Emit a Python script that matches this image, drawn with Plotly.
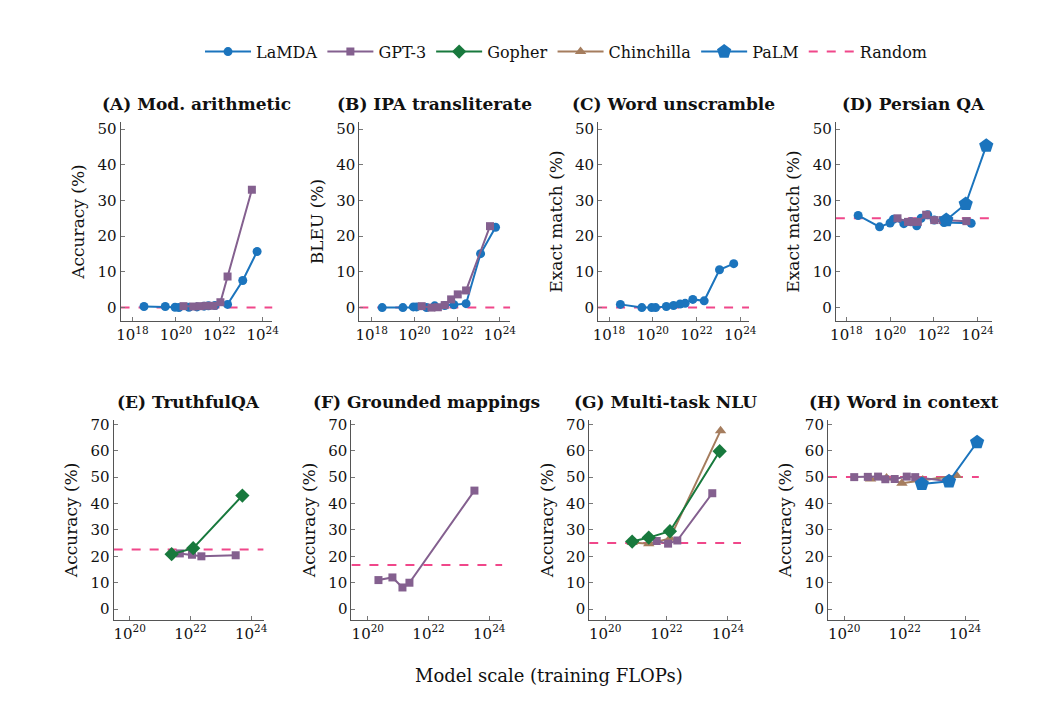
import numpy as np
import plotly.graph_objects as go

# x values are log10(training FLOPs), y values in percent
lamda_a_x = [18.53, 19.51, 19.96, 20.14, 20.6, 20.97, 21.3, 21.5, 21.8, 22.38, 23.08, 23.74]
lamda_a_y = [0.3, 0.3, 0.1, 0.0, 0.1, 0.2, 0.4, 0.5, 0.6, 0.9, 7.6, 15.7]
gpt3_a_x = [20.35, 20.8, 21.1, 21.4, 21.73, 22.05, 22.38, 23.5]
gpt3_a_y = [0.4, 0.3, 0.4, 0.5, 0.5, 1.5, 8.7, 33.0]

lamda_b_x = [18.49, 19.46, 19.95, 20.1, 20.57, 20.95, 21.42, 21.85, 22.42, 23.1, 23.8]
lamda_b_y = [0.0, 0.0, 0.2, 0.2, 0.0, 0.5, 0.6, 0.8, 1.1, 15.1, 22.5]
gpt3_b_x = [20.34, 20.8, 21.1, 21.42, 21.72, 22.03, 22.42, 23.54]
gpt3_b_y = [0.4, 0.0, 0.1, 0.7, 2.3, 3.7, 4.8, 22.8]

lamda_c_x = [18.52, 19.5, 19.95, 20.13, 20.62, 20.95, 21.25, 21.48, 21.83, 22.35, 23.05, 23.7]
lamda_c_y = [0.9, 0.0, 0.0, 0.0, 0.3, 0.6, 1.0, 1.2, 2.3, 1.9, 10.6, 12.3]

lamda_d_x = [18.54, 19.52, 20.0, 20.15, 20.63, 20.95, 21.22, 21.42, 21.72, 22.02, 22.47, 23.71]
lamda_d_y = [25.8, 22.6, 23.7, 24.7, 23.5, 24.0, 22.9, 25.0, 26.0, 24.5, 23.8, 23.6]
gpt3_d_x = [20.34, 20.82, 21.05, 21.27, 21.65, 22.02, 22.4, 23.49]
gpt3_d_y = [25.0, 24.0, 24.0, 24.0, 26.0, 24.5, 24.5, 24.2]
palm_d_x = [22.57, 23.46, 24.4]
palm_d_y = [24.5, 29.0, 45.3]

gopher_e_x = [21.38, 22.09, 23.71]
gopher_e_y = [20.8, 23.1, 43.0]
gpt3_e_x = [21.65, 22.05, 22.36, 23.49]
gpt3_e_y = [21.1, 20.6, 20.0, 20.4]

gpt3_f_x = [20.35, 20.81, 21.14, 21.37, 23.51]
gpt3_f_y = [11.0, 12.0, 8.2, 10.0, 44.9]

gopher_g_x = [20.88, 21.42, 22.11, 23.73]
gopher_g_y = [25.6, 27.1, 29.5, 59.8]
chinchilla_g_x = [20.88, 21.42, 22.11, 23.76]
chinchilla_g_y = [25.2, 24.8, 26.8, 67.6]
gpt3_g_x = [21.68, 22.05, 22.35, 23.49]
gpt3_g_y = [25.8, 24.8, 26.0, 43.9]

gpt3_h_x = [20.33, 20.78, 21.12, 21.36, 21.67, 22.07, 22.35, 23.47]
gpt3_h_y = [50.0, 50.1, 50.2, 49.2, 49.3, 50.2, 50.0, 48.4]
chinchilla_h_x = [20.87, 21.4, 21.91, 22.6, 23.72]
chinchilla_h_y = [49.3, 49.7, 47.7, 48.9, 50.6]
palm_h_x = [22.57, 23.47, 24.4]
palm_h_y = [47.4, 48.4, 63.2]

random_baseline = [0, 0, 0, 25, 22.6, 16.7, 25, 50]

panel_titles = ["(A) Mod. arithmetic", "(B) IPA transliterate", "(C) Word unscramble",
                "(D) Persian QA", "(E) TruthfulQA", "(F) Grounded mappings",
                "(G) Multi-task NLU", "(H) Word in context"]
y_titles = ["Accuracy (%)", "BLEU (%)", "Exact match (%)", "Exact match (%)",
            "Accuracy (%)", "Accuracy (%)", "Accuracy (%)", "Accuracy (%)"]
top_ticks = [18, 20, 22, 24]
bottom_ticks = [20, 22, 24]
top_yticks = [0, 10, 20, 30, 40, 50]
bottom_yticks = [0, 10, 20, 30, 40, 50, 60, 70]

styles = {
    "LaMDA": dict(color="#1b74bd", symbol="circle", size=9),
    "GPT-3": dict(color="#84608f", symbol="square", size=8),
    "Gopher": dict(color="#18793d", symbol="diamond", size=11),
    "Chinchilla": dict(color="#a57d5e", symbol="triangle-up", size=10),
    "PaLM": dict(color="#1b74bd", symbol="pentagon", size=15),
}
RANDOM_COLOR = "#f0478a"

panels = [
    [("LaMDA", lamda_a_x, lamda_a_y), ("GPT-3", gpt3_a_x, gpt3_a_y)],
    [("LaMDA", lamda_b_x, lamda_b_y), ("GPT-3", gpt3_b_x, gpt3_b_y)],
    [("LaMDA", lamda_c_x, lamda_c_y)],
    [("LaMDA", lamda_d_x, lamda_d_y), ("GPT-3", gpt3_d_x, gpt3_d_y), ("PaLM", palm_d_x, palm_d_y)],
    [("GPT-3", gpt3_e_x, gpt3_e_y), ("Gopher", gopher_e_x, gopher_e_y)],
    [("GPT-3", gpt3_f_x, gpt3_f_y)],
    [("Chinchilla", chinchilla_g_x, chinchilla_g_y), ("GPT-3", gpt3_g_x, gpt3_g_y),
     ("Gopher", gopher_g_x, gopher_g_y)],
    [("Chinchilla", chinchilla_h_x, chinchilla_h_y), ("GPT-3", gpt3_h_x, gpt3_h_y),
     ("PaLM", palm_h_x, palm_h_y)],
]

W, H = 1046, 708
OFF = 10  # page margin around the figure in the browser
# pixel boxes of each panel as seen on screen: (left, right, top, bottom)
boxes = [(118, 272, 120, 320), (360, 513, 120, 320), (602, 755, 120, 320), (843, 1001, 120, 320),
         (111, 263, 420, 621), (352, 505, 420, 621), (593, 747, 420, 621), (835, 988, 420, 621)]
xranges = [(17.45, 24.45), (17.42, 24.49), (17.5, 24.4), (17.52, 24.65),
           (19.47, 24.41), (19.46, 24.43), (19.48, 24.43), (19.46, 24.46)]


def px(v):
    return (v - OFF) / W


def py(v):
    return 1 - (v - OFF) / H


SERIF = "DejaVu Serif"
fig = go.Figure()
seen = set()
layout = {}
annotations = []

for i in range(8):
    n = "" if i == 0 else str(i + 1)
    xa, ya = "x" + n, "y" + n
    left, right, top, bottom = boxes[i]
    lo, hi = xranges[i]
    row1 = i < 4
    yr = [-3.7, 51.9] if row1 else [-4.0, 71.6]
    xt = top_ticks if row1 else bottom_ticks

    # random baseline across the panel
    show = "Random" not in seen
    seen.add("Random")
    fig.add_trace(go.Scatter(
        x=[10.0 ** lo, 10.0 ** hi], y=[random_baseline[i]] * 2, mode="lines",
        line=dict(color=RANDOM_COLOR, width=2, dash="dash"),
        name="Random", legendgroup="Random", showlegend=show, legendrank=6,
        xaxis=xa, yaxis=ya))

    for name, xs, ys in panels[i]:
        st = styles[name]
        show = name not in seen
        seen.add(name)
        fig.add_trace(go.Scatter(
            x=10.0 ** np.array(xs), y=ys, mode="lines+markers", name=name,
            line=dict(color=st["color"], width=2),
            marker=dict(color=st["color"], symbol=st["symbol"], size=st["size"]),
            legendgroup=name, showlegend=show, cliponaxis=False,
            legendrank=list(styles).index(name) + 1,
            xaxis=xa, yaxis=ya))

    layout["xaxis" + n] = dict(
        domain=[px(left), px(right)], anchor=ya, type="log", range=[lo, hi],
        tickvals=[10.0 ** t for t in xt], ticktext=["10<sup>%d</sup>" % t for t in xt],
        ticks="inside", ticklen=4, tickcolor="#777", showline=True, linecolor="#555",
        linewidth=1, showgrid=False, zeroline=False,
        tickfont=dict(family=SERIF, size=15, color="#111"))
    layout["yaxis" + n] = dict(
        domain=[py(bottom), py(top)], anchor=xa, range=yr,
        tickvals=top_yticks if row1 else bottom_yticks,
        ticks="inside", ticklen=4, tickcolor="#777", showline=True, linecolor="#555",
        linewidth=1, showgrid=False, zeroline=False,
        tickfont=dict(family=SERIF, size=15, color="#111"),
        title=dict(text=y_titles[i], font=dict(family=SERIF, size=17, color="#111"),
                   standoff=8))
    annotations.append(dict(
        text="<b>%s</b>" % panel_titles[i], x=px((left + right) / 2),
        y=py(top - 18), xref="paper", yref="paper", showarrow=False,
        xanchor="center", yanchor="middle",
        font=dict(family=SERIF, size=17, color="#111")))

annotations.append(dict(
    text="Model scale (training FLOPs)", x=px(552), y=py(677), xref="paper",
    yref="paper", showarrow=False, xanchor="center", yanchor="middle",
    font=dict(family=SERIF, size=18, color="#111")))

fig.update_layout(
    width=W, height=H,
    margin=dict(l=0, r=0, t=0, b=0),
    paper_bgcolor="white", plot_bgcolor="white",
    annotations=annotations,
    legend=dict(orientation="h", x=px(570), y=py(49), xanchor="center",
                yanchor="middle", font=dict(family=SERIF, size=16, color="#111"),
                itemwidth=46, traceorder="normal"),
    **layout)

fig.write_html("out.html")
